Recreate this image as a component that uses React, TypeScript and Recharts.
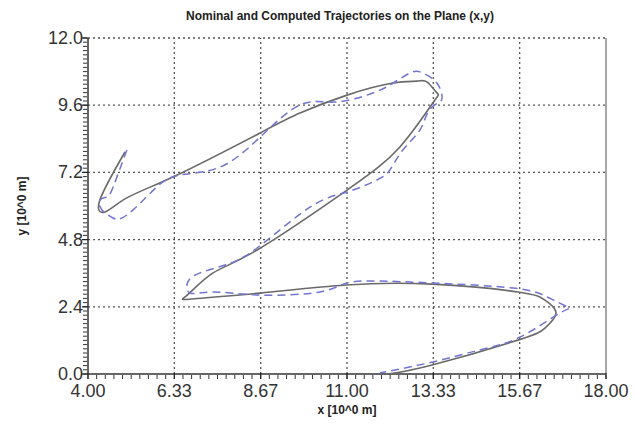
import React from 'react';
import { LineChart, Line, XAxis, YAxis, ReferenceLine } from 'recharts';

// nominal trajectory (solid grey)
const nominalX = [
  5.0, 4.32, 4.46, 5.05, 6.41, 8.65, 9.73, 11.0, 12.24, 12.89, 13.16, 13.43,
  13.32, 12.43, 11.0, 8.57, 7.38, 6.68, 6.81, 8.65, 10.97, 13.3, 15.62, 16.35,
  16.65, 16.35, 15.62, 13.3, 12.1,
];
const nominalY = [
  7.93, 6.21, 5.79, 6.29, 7.11, 8.61, 9.32, 9.96, 10.39, 10.46, 10.43, 10.04,
  9.68, 8.11, 6.57, 4.43, 3.61, 2.82, 2.68, 2.89, 3.18, 3.21, 2.93, 2.64, 2.18,
  1.64, 1.21, 0.32, 0.0,
];

// computed trajectory (dashed blue)
const computedX = [
  5.05, 4.68, 4.51, 4.32, 4.38, 4.68, 4.86, 5.22, 5.86, 6.49, 7.57, 8.65, 9.73,
  10.62, 11.54, 12.16, 12.7, 13.05, 13.43, 13.57, 13.46, 13.19, 12.97, 12.51,
  12.16, 11.81, 11.0, 10.0, 8.57, 7.7, 7.03, 6.7, 6.76, 7.38, 8.65, 10.27, 11.0,
  11.89, 13.32, 15.49, 16.41, 16.97, 16.76, 15.68, 14.59, 13.32, 11.89,
];
const computedY = [
  8.0, 6.68, 6.32, 6.21, 5.86, 5.57, 5.54, 5.86, 6.68, 7.11, 7.39, 8.46, 9.61,
  9.71, 9.96, 10.32, 10.75, 10.75, 10.39, 9.89, 9.68, 9.36, 8.71, 8.0, 7.29,
  6.93, 6.5, 5.96, 4.5, 3.89, 3.61, 3.29, 2.89, 2.93, 2.82, 2.93, 3.25, 3.32,
  3.25, 3.07, 2.75, 2.39, 2.18, 1.32, 0.86, 0.43, 0.04,
];

const xMajor = [4, 6.333, 8.667, 11, 13.333, 15.667, 18];
const xLabels = ['4.00', '6.33', '8.67', '11.00', '13.33', '15.67', '18.00'];
const yMajor = [0, 2.4, 4.8, 7.2, 9.6, 12];
const yLabels = ['0.0', '2.4', '4.8', '7.2', '9.6', '12.0'];

// minor tick marks along the axes
const xMinor = Array.from({ length: 61 }, (_, i) => +(4 + i * (14 / 60)).toFixed(4));
const yMinor = Array.from({ length: 81 }, (_, i) => +(i * 0.15).toFixed(2));

const nominalData = nominalX.map((x, i) => ({ x, y: nominalY[i] }));
const computedData = computedX.map((x, i) => ({ x, y: computedY[i] }));

const FONT = '"Liberation Sans", Arial, sans-serif';

const XTick = (props: any) => {
  const { x, y, payload, index } = props;
  return (
    <g>
      <path d={`M${x},${y - 1}v6`} stroke="#222" strokeWidth={1.2} fill="none" />
      <text x={x} y={y + 23} textAnchor="middle" fontSize={18} fontFamily={FONT} fill="#333">
        {xLabels[index] ?? payload.value}
      </text>
    </g>
  );
};

const YTick = (props: any) => {
  const { x, y, payload, index } = props;
  return (
    <g>
      <path d={`M${x - 6},${y}h6`} stroke="#222" strokeWidth={1.2} fill="none" />
      <text x={x - 5} y={y + 6} textAnchor="end" fontSize={18} fontFamily={FONT} fill="#333">
        {yLabels[index] ?? payload.value}
      </text>
    </g>
  );
};

const blank = () => '';

export default function App() {
  return (
    <div style={{ position: 'absolute', left: 0, top: 0, width: 637, height: 427, background: '#fff' }}>
      <div
        style={{
          position: 'absolute',
          top: 9,
          left: 0,
          width: 680,
          textAlign: 'center',
          fontFamily: FONT,
          fontWeight: 'bold',
          fontSize: 12,
          color: '#222',
        }}
      >
        Nominal and Computed Trajectories on the Plane (x,y)
      </div>
      <LineChart width={637} height={427} margin={{ top: 38, right: 31, bottom: 0, left: 0 }}>
        {/* labelled axes: thin, on the plot edge */}
        <XAxis
          type="number"
          dataKey="x"
          domain={[4, 18]}
          ticks={xMajor}
          interval={0}
          tickSize={0}
          tickMargin={0}
          tickLine={false}
          tick={<XTick />}
          height={1}
          allowDataOverflow
          axisLine={false}
        />
        <YAxis
          type="number"
          dataKey="y"
          domain={[0, 12]}
          ticks={yMajor}
          interval={0}
          tickSize={0}
          tickMargin={0}
          tickLine={false}
          tick={<YTick />}
          width={1}
          allowDataOverflow
          axisLine={false}
        />
        {/* minor tick axes, outer boxes that also carry the axis titles */}
        <XAxis
          xAxisId="minor"
          type="number"
          dataKey="x"
          domain={[4, 18]}
          ticks={xMinor}
          interval={0}
          tickSize={4}
          tickFormatter={blank}
          height={52}
          allowDataOverflow
          axisLine={false}
          tickLine={{ stroke: '#333', strokeWidth: 1 }}
          label={{
            content: (p: any) => (
              <text
                x={p.viewBox.x + p.viewBox.width / 2}
                y={p.viewBox.y + 39}
                textAnchor="middle"
                fontSize={12}
                fontWeight="bold"
                fontFamily={FONT}
                fill="#222"
              >
                x [10^0 m]
              </text>
            ),
          }}
        />
        <YAxis
          yAxisId="minor"
          type="number"
          dataKey="y"
          domain={[0, 12]}
          ticks={yMinor}
          interval={0}
          tickSize={4}
          tickFormatter={blank}
          width={87}
          allowDataOverflow
          axisLine={false}
          tickLine={{ stroke: '#333', strokeWidth: 1 }}
          label={{
            content: (p: any) => {
              const cx = p.viewBox.x + 22;
              const cy = p.viewBox.y + p.viewBox.height / 2;
              return (
                <text
                  x={cx}
                  y={cy}
                  transform={`rotate(-90 ${cx} ${cy})`}
                  textAnchor="middle"
                  dominantBaseline="central"
                  fontSize={12}
                  fontWeight="bold"
                  fontFamily={FONT}
                  fill="#222"
                >
                  y [10^0 m]
                </text>
              );
            },
          }}
        />
        {xMajor.slice(1, -1).map((v) => (
          <ReferenceLine key={`gx${v}`} x={v} stroke="#555" strokeDasharray="2 3" strokeWidth={1.3} />
        ))}
        {yMajor.slice(1).map((v) => (
          <ReferenceLine key={`gy${v}`} y={v} stroke="#555" strokeDasharray="2 3" strokeWidth={1.3} />
        ))}
        {/* plot frame: solid left, bottom and right */}
        <ReferenceLine x={4} stroke="#333" strokeWidth={1.5} />
        <ReferenceLine y={0} stroke="#333" strokeWidth={1.5} />
        <ReferenceLine x={18} stroke="#888" strokeWidth={1.5} />
        <Line
          data={nominalData}
          dataKey="y"
          type="natural"
          stroke="#6a6a6a"
          strokeWidth={1.6}
          dot={false}
          isAnimationActive={false}
        />
        <Line
          data={computedData}
          dataKey="y"
          type="natural"
          stroke="#7274cf"
          strokeWidth={1.5}
          strokeDasharray="8 5"
          dot={false}
          isAnimationActive={false}
        />
      </LineChart>
    </div>
  );
}
